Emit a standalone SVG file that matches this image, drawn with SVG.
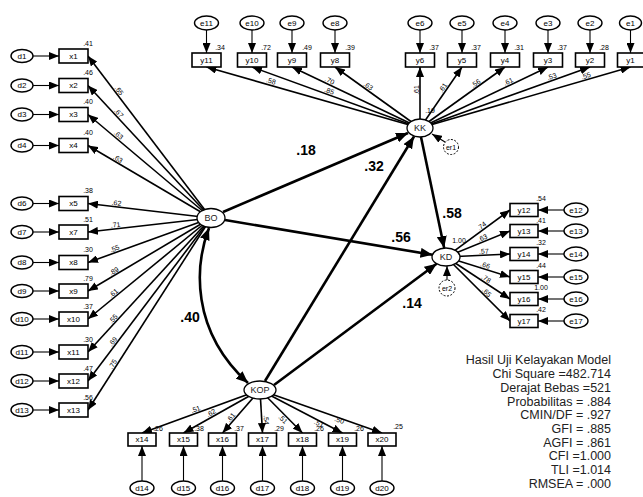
<svg xmlns="http://www.w3.org/2000/svg" width="643" height="497" viewBox="0 0 643 497">
<defs>
<marker id="ah" markerUnits="userSpaceOnUse" markerWidth="10" markerHeight="8" refX="10" refY="4" orient="auto"><path d="M0,0 L10,4 L0,8 z" fill="#000"/></marker>
<marker id="ahb" markerUnits="userSpaceOnUse" markerWidth="12" markerHeight="10" refX="12" refY="5" orient="auto-start-reverse"><path d="M0,0 L12,5 L0,10 z" fill="#000"/></marker>
</defs>
<style>
.box{fill:#fff;stroke:#000;stroke-width:1.6}
.lat{fill:#fff;stroke:#000;stroke-width:1.3}
.err{fill:#fff;stroke:#000;stroke-width:1.4}
.derr{fill:#fff;stroke:#000;stroke-width:1;stroke-dasharray:2 1.5}
text{font-family:"Liberation Sans",Arial,sans-serif;fill:#000}
.t{font-size:8px;text-anchor:middle;dominant-baseline:central}
.lt{font-size:9px;text-anchor:middle;dominant-baseline:central;fill:#222}
.n{font-size:7px;text-anchor:middle;dominant-baseline:central}
.b{font-size:14px;font-weight:bold;text-anchor:middle;dominant-baseline:central}
.s{font-size:12.5px;text-anchor:end;fill:#222}
.ld{stroke:#000;stroke-width:1.6;fill:none;marker-end:url(#ah)}
.th{stroke:#000;stroke-width:1.1;fill:none;marker-end:url(#ah)}
.st{stroke:#000;stroke-width:2.6;fill:none;marker-end:url(#ahb)}
</style>

<g id="connectors">
<line class="th" x1="33" y1="56" x2="59" y2="56"/>
<line class="th" x1="33" y1="85.5" x2="59" y2="85.5"/>
<line class="th" x1="33" y1="114.5" x2="59" y2="114.5"/>
<line class="th" x1="33" y1="145.5" x2="59" y2="145.5"/>
<line class="th" x1="33" y1="203.5" x2="59" y2="203.5"/>
<line class="th" x1="33" y1="232" x2="59" y2="232"/>
<line class="th" x1="33" y1="262.5" x2="59" y2="262.5"/>
<line class="th" x1="33" y1="291" x2="59" y2="291"/>
<line class="th" x1="33" y1="319" x2="59" y2="319"/>
<line class="th" x1="33" y1="352" x2="59" y2="352"/>
<line class="th" x1="33" y1="381" x2="59" y2="381"/>
<line class="th" x1="33" y1="410" x2="59" y2="410"/>
<line class="ld" x1="211" y1="218" x2="88" y2="56"/>
<line class="ld" x1="211" y1="218" x2="88" y2="85.5"/>
<line class="ld" x1="211" y1="218" x2="88" y2="114.5"/>
<line class="ld" x1="211" y1="218" x2="88" y2="145.5"/>
<line class="ld" x1="211" y1="218" x2="88" y2="203.5"/>
<line class="ld" x1="211" y1="218" x2="88" y2="232"/>
<line class="ld" x1="211" y1="218" x2="88" y2="262.5"/>
<line class="ld" x1="211" y1="218" x2="88" y2="291"/>
<line class="ld" x1="211" y1="218" x2="88" y2="319"/>
<line class="ld" x1="211" y1="218" x2="88" y2="352"/>
<line class="ld" x1="211" y1="218" x2="88" y2="381"/>
<line class="ld" x1="211" y1="218" x2="88" y2="410"/>
<line class="th" x1="206.5" y1="30" x2="206.5" y2="53"/>
<line class="th" x1="252" y1="30" x2="252" y2="53"/>
<line class="th" x1="292" y1="30" x2="292" y2="53"/>
<line class="th" x1="335" y1="30" x2="335" y2="53"/>
<line class="th" x1="420" y1="30" x2="420" y2="53"/>
<line class="th" x1="462" y1="30" x2="462" y2="53"/>
<line class="th" x1="505" y1="30" x2="505" y2="53"/>
<line class="th" x1="548" y1="30" x2="548" y2="53"/>
<line class="th" x1="590" y1="30" x2="590" y2="53"/>
<line class="th" x1="630.5" y1="30" x2="630.5" y2="53"/>
<line class="ld" x1="420" y1="128" x2="206.5" y2="67"/>
<line class="ld" x1="420" y1="128" x2="252" y2="67"/>
<line class="ld" x1="420" y1="128" x2="292" y2="67"/>
<line class="ld" x1="420" y1="128" x2="335" y2="67"/>
<line class="ld" x1="420" y1="128" x2="420" y2="67"/>
<line class="ld" x1="420" y1="128" x2="462" y2="67"/>
<line class="ld" x1="420" y1="128" x2="505" y2="67"/>
<line class="ld" x1="420" y1="128" x2="548" y2="67"/>
<line class="ld" x1="420" y1="128" x2="590" y2="67"/>
<line class="ld" x1="420" y1="128" x2="630.5" y2="67"/>
<line class="ld" x1="446" y1="257" x2="510" y2="210"/>
<line class="ld" x1="446" y1="257" x2="510" y2="231"/>
<line class="ld" x1="446" y1="257" x2="510" y2="254"/>
<line class="ld" x1="446" y1="257" x2="510" y2="277"/>
<line class="ld" x1="446" y1="257" x2="510" y2="299"/>
<line class="ld" x1="446" y1="257" x2="510" y2="321"/>
<line class="th" x1="564" y1="210" x2="538" y2="210"/>
<line class="th" x1="564" y1="231" x2="538" y2="231"/>
<line class="th" x1="564" y1="254" x2="538" y2="254"/>
<line class="th" x1="564" y1="277" x2="538" y2="277"/>
<line class="th" x1="564" y1="299" x2="538" y2="299"/>
<line class="th" x1="564" y1="321" x2="538" y2="321"/>
<line class="ld" x1="260" y1="390" x2="142" y2="433"/>
<line class="ld" x1="260" y1="390" x2="183.5" y2="433"/>
<line class="ld" x1="260" y1="390" x2="222.5" y2="433"/>
<line class="ld" x1="260" y1="390" x2="262.5" y2="433"/>
<line class="ld" x1="260" y1="390" x2="302.5" y2="433"/>
<line class="ld" x1="260" y1="390" x2="342.5" y2="433"/>
<line class="ld" x1="260" y1="390" x2="382" y2="433"/>
<line class="th" x1="142" y1="481" x2="142" y2="446"/>
<line class="th" x1="183.5" y1="481" x2="183.5" y2="446"/>
<line class="th" x1="222.5" y1="481" x2="222.5" y2="446"/>
<line class="th" x1="262.5" y1="481" x2="262.5" y2="446"/>
<line class="th" x1="302.5" y1="481" x2="302.5" y2="446"/>
<line class="th" x1="342.5" y1="481" x2="342.5" y2="446"/>
<line class="th" x1="382" y1="481" x2="382" y2="446"/>
<line class="st" x1="223" y1="212" x2="408" y2="133"/>
<line class="st" x1="265" y1="381" x2="414" y2="136.5"/>
<line class="st" x1="225" y1="220" x2="432.5" y2="254.8"/>
<line class="st" x1="274" y1="385" x2="436.6" y2="263.7"/>
<line class="st" x1="421" y1="137" x2="444.2" y2="248.1"/>
<path class="st" d="M209,228 C195,265 190,330 248,383" marker-start="url(#ahb)"/>
<line class="th" x1="445" y1="142" x2="432" y2="134"/>
<line class="th" x1="447" y1="280" x2="447" y2="266"/>
<text class="n" transform="translate(119.2,90.5) rotate(52.8)">.65</text>
<text class="n" transform="translate(118.9,113) rotate(47.1)">.67</text>
<text class="n" transform="translate(118.6,135) rotate(40.1)">.63</text>
<text class="n" transform="translate(118,158.6) rotate(30.5)">.63</text>
<text class="n" transform="translate(116.5,202.8) rotate(6.7)">.62</text>
<text class="n" transform="translate(115.5,224.8) rotate(-6.5)">.71</text>
<text class="n" transform="translate(114.6,248.6) rotate(-19.9)">.55</text>
<text class="n" transform="translate(114,271) rotate(-30.7)">.89</text>
<text class="n" transform="translate(113.5,292.9) rotate(-39.4)">.61</text>
<text class="n" transform="translate(113.1,318.8) rotate(-47.4)">.55</text>
<text class="n" transform="translate(112.8,341.5) rotate(-53)">.69</text>
<text class="n" transform="translate(112.6,364.1) rotate(-57.4)">.75</text>
<text class="n" transform="translate(271,81) rotate(15.9)">.58</text>
<text class="n" transform="translate(329.4,90.8) rotate(20)">.85</text>
<text class="n" transform="translate(329.7,80.6) rotate(25.5)">.70</text>
<text class="n" transform="translate(368.3,86) rotate(35.7)">.63</text>
<text class="n" transform="translate(416,90) rotate(-90)">.61</text>
<text class="n" transform="translate(442.9,87.7) rotate(-55.4)">.61</text>
<text class="n" transform="translate(475.7,83.2) rotate(-35.7)">.56</text>
<text class="n" transform="translate(508.3,81.5) rotate(-25.5)">.61</text>
<text class="n" transform="translate(551.7,76.5) rotate(-19.7)">.53</text>
<text class="n" transform="translate(585.9,75.7) rotate(-16.2)">.55</text>
<text class="n" transform="translate(481.6,225.9) rotate(-36.3)">.74</text>
<text class="n" transform="translate(482.5,237.9) rotate(-22.1)">.63</text>
<text class="n" transform="translate(483.8,251.2) rotate(-2.7)">.57</text>
<text class="n" transform="translate(485.2,265.1) rotate(17.4)">.66</text>
<text class="n" transform="translate(486.2,278.6) rotate(33.3)">.78</text>
<text class="n" transform="translate(486.8,292.2) rotate(45)">.65</text>
<text class="n" transform="translate(195.6,409.2) rotate(-20)">.51</text>
<text class="n" transform="translate(211,412.9) rotate(-29.3)">.62</text>
<text class="n" transform="translate(230.8,417.4) rotate(-48.9)">.61</text>
<text class="n" transform="translate(266.5,420) rotate(87)">.54</text>
<text class="n" transform="translate(283.2,419.1) rotate(45.3)">.51</text>
<text class="n" transform="translate(319,423.3) rotate(27.5)">.51</text>
<text class="n" transform="translate(339.3,420) rotate(19.4)">.50</text>
<text class="b" x="306" y="150">.18</text>
<text class="b" x="374" y="166">.32</text>
<text class="b" x="401" y="237">.56</text>
<text class="b" x="452" y="213">.58</text>
<text class="b" x="412" y="303">.14</text>
<text class="b" x="190" y="317">.40</text>
</g>

<g id="d1"><ellipse class="err" cx="22" cy="56" rx="11" ry="6.5"/><text class="t" x="22" y="56">d1</text></g>
<g id="x1"><rect class="box" x="59" y="49" width="29" height="14"/><text class="t" x="73.5" y="56">x1</text><text class="n" x="88" y="43">.41</text></g>
<g id="d2"><ellipse class="err" cx="22" cy="85.5" rx="11" ry="6.5"/><text class="t" x="22" y="85.5">d2</text></g>
<g id="x2"><rect class="box" x="59" y="78.5" width="29" height="14"/><text class="t" x="73.5" y="85.5">x2</text><text class="n" x="88" y="72.5">.46</text></g>
<g id="d3"><ellipse class="err" cx="22" cy="114.5" rx="11" ry="6.5"/><text class="t" x="22" y="114.5">d3</text></g>
<g id="x3"><rect class="box" x="59" y="107.5" width="29" height="14"/><text class="t" x="73.5" y="114.5">x3</text><text class="n" x="88" y="101.5">.40</text></g>
<g id="d4"><ellipse class="err" cx="22" cy="145.5" rx="11" ry="6.5"/><text class="t" x="22" y="145.5">d4</text></g>
<g id="x4"><rect class="box" x="59" y="138.5" width="29" height="14"/><text class="t" x="73.5" y="145.5">x4</text><text class="n" x="88" y="132.5">.40</text></g>
<g id="d6"><ellipse class="err" cx="22" cy="203.5" rx="11" ry="6.5"/><text class="t" x="22" y="203.5">d6</text></g>
<g id="x5"><rect class="box" x="59" y="196.5" width="29" height="14"/><text class="t" x="73.5" y="203.5">x5</text><text class="n" x="88" y="190.5">.38</text></g>
<g id="d7"><ellipse class="err" cx="22" cy="232" rx="11" ry="6.5"/><text class="t" x="22" y="232">d7</text></g>
<g id="x7"><rect class="box" x="59" y="225" width="29" height="14"/><text class="t" x="73.5" y="232">x7</text><text class="n" x="88" y="219">.51</text></g>
<g id="d8"><ellipse class="err" cx="22" cy="262.5" rx="11" ry="6.5"/><text class="t" x="22" y="262.5">d8</text></g>
<g id="x8"><rect class="box" x="59" y="255.5" width="29" height="14"/><text class="t" x="73.5" y="262.5">x8</text><text class="n" x="88" y="249.5">.30</text></g>
<g id="d9"><ellipse class="err" cx="22" cy="291" rx="11" ry="6.5"/><text class="t" x="22" y="291">d9</text></g>
<g id="x9"><rect class="box" x="59" y="284" width="29" height="14"/><text class="t" x="73.5" y="291">x9</text><text class="n" x="88" y="278">.79</text></g>
<g id="d10"><ellipse class="err" cx="22" cy="319" rx="11" ry="6.5"/><text class="t" x="22" y="319">d10</text></g>
<g id="x10"><rect class="box" x="59" y="312" width="29" height="14"/><text class="t" x="73.5" y="319">x10</text><text class="n" x="88" y="306">.37</text></g>
<g id="d11"><ellipse class="err" cx="22" cy="352" rx="11" ry="6.5"/><text class="t" x="22" y="352">d11</text></g>
<g id="x11"><rect class="box" x="59" y="345" width="29" height="14"/><text class="t" x="73.5" y="352">x11</text><text class="n" x="88" y="339">.30</text></g>
<g id="d12"><ellipse class="err" cx="22" cy="381" rx="11" ry="6.5"/><text class="t" x="22" y="381">d12</text></g>
<g id="x12"><rect class="box" x="59" y="374" width="29" height="14"/><text class="t" x="73.5" y="381">x12</text><text class="n" x="88" y="368">.47</text></g>
<g id="d13"><ellipse class="err" cx="22" cy="410" rx="11" ry="6.5"/><text class="t" x="22" y="410">d13</text></g>
<g id="x13"><rect class="box" x="59" y="403" width="29" height="14"/><text class="t" x="73.5" y="410">x13</text><text class="n" x="88" y="397">.56</text></g>

<g id="e11"><ellipse class="err" cx="206.5" cy="23" rx="12" ry="7"/><text class="t" x="206.5" y="23">e11</text></g>
<g id="y11"><rect class="box" x="192" y="53" width="29" height="14"/><text class="t" x="206.5" y="60">y11</text><text class="n" x="220" y="47">.34</text></g>
<g id="e10"><ellipse class="err" cx="252" cy="23" rx="12" ry="7"/><text class="t" x="252" y="23">e10</text></g>
<g id="y10"><rect class="box" x="237.5" y="53" width="29" height="14"/><text class="t" x="252" y="60">y10</text><text class="n" x="266" y="47">.72</text></g>
<g id="e9"><ellipse class="err" cx="292" cy="23" rx="12" ry="7"/><text class="t" x="292" y="23">e9</text></g>
<g id="y9"><rect class="box" x="277.5" y="53" width="29" height="14"/><text class="t" x="292" y="60">y9</text><text class="n" x="307" y="47">.49</text></g>
<g id="e8"><ellipse class="err" cx="335" cy="23" rx="12" ry="7"/><text class="t" x="335" y="23">e8</text></g>
<g id="y8"><rect class="box" x="320.5" y="53" width="29" height="14"/><text class="t" x="335" y="60">y8</text><text class="n" x="350" y="47">.39</text></g>
<g id="e6"><ellipse class="err" cx="420" cy="23" rx="12" ry="7"/><text class="t" x="420" y="23">e6</text></g>
<g id="y6"><rect class="box" x="405.5" y="53" width="29" height="14"/><text class="t" x="420" y="60">y6</text><text class="n" x="434" y="47">.37</text></g>
<g id="e5"><ellipse class="err" cx="462" cy="23" rx="12" ry="7"/><text class="t" x="462" y="23">e5</text></g>
<g id="y5"><rect class="box" x="447.5" y="53" width="29" height="14"/><text class="t" x="462" y="60">y5</text><text class="n" x="476" y="47">.37</text></g>
<g id="e4"><ellipse class="err" cx="505" cy="23" rx="12" ry="7"/><text class="t" x="505" y="23">e4</text></g>
<g id="y4"><rect class="box" x="490.5" y="53" width="29" height="14"/><text class="t" x="505" y="60">y4</text><text class="n" x="519" y="47">.31</text></g>
<g id="e3"><ellipse class="err" cx="548" cy="23" rx="12" ry="7"/><text class="t" x="548" y="23">e3</text></g>
<g id="y3"><rect class="box" x="533.5" y="53" width="29" height="14"/><text class="t" x="548" y="60">y3</text><text class="n" x="562" y="47">.37</text></g>
<g id="e2"><ellipse class="err" cx="590" cy="23" rx="12" ry="7"/><text class="t" x="590" y="23">e2</text></g>
<g id="y2"><rect class="box" x="575.5" y="53" width="29" height="14"/><text class="t" x="590" y="60">y2</text><text class="n" x="604" y="47">.28</text></g>
<g id="e1"><ellipse class="err" cx="630.5" cy="23" rx="11" ry="7"/><text class="t" x="630.5" y="23">e1</text></g>
<g id="y1"><rect class="box" x="617.5" y="53" width="29" height="14"/><text class="t" x="630.5" y="60">y1</text></g>

<g id="y12"><rect class="box" x="510" y="203.5" width="28" height="13"/><text class="t" x="524" y="210">y12</text><text class="n" x="541" y="198">.54</text></g>
<g id="e12"><ellipse class="err" cx="576" cy="210" rx="12" ry="7"/><text class="t" x="576" y="210">e12</text></g>
<g id="y13"><rect class="box" x="510" y="224.5" width="28" height="13"/><text class="t" x="524" y="231">y13</text><text class="n" x="541" y="220">.41</text></g>
<g id="e13"><ellipse class="err" cx="576" cy="231" rx="12" ry="7"/><text class="t" x="576" y="231">e13</text></g>
<g id="y14"><rect class="box" x="510" y="247.5" width="28" height="13"/><text class="t" x="524" y="254">y14</text><text class="n" x="541" y="242">.32</text></g>
<g id="e14"><ellipse class="err" cx="576" cy="254" rx="12" ry="7"/><text class="t" x="576" y="254">e14</text></g>
<g id="y15"><rect class="box" x="510" y="270.5" width="28" height="13"/><text class="t" x="524" y="277">y15</text><text class="n" x="541" y="265">.44</text></g>
<g id="e15"><ellipse class="err" cx="576" cy="277" rx="12" ry="7"/><text class="t" x="576" y="277">e15</text></g>
<g id="y16"><rect class="box" x="510" y="292.5" width="28" height="13"/><text class="t" x="524" y="299">y16</text><text class="n" x="541" y="287">1.00</text></g>
<g id="e16"><ellipse class="err" cx="576" cy="299" rx="12" ry="7"/><text class="t" x="576" y="299">e16</text></g>
<g id="y17"><rect class="box" x="510" y="314.5" width="28" height="13"/><text class="t" x="524" y="321">y17</text><text class="n" x="541" y="309">.42</text></g>
<g id="e17"><ellipse class="err" cx="576" cy="321" rx="12" ry="7"/><text class="t" x="576" y="321">e17</text></g>

<g id="x14"><rect class="box" x="128" y="433" width="28" height="13"/><text class="t" x="142" y="439.5">x14</text><text class="n" x="158" y="428">.26</text></g>
<g id="d14"><ellipse class="err" cx="142" cy="488" rx="12" ry="7"/><text class="t" x="142" y="488">d14</text></g>
<g id="x15"><rect class="box" x="169.5" y="433" width="28" height="13"/><text class="t" x="183.5" y="439.5">x15</text><text class="n" x="199" y="428">.38</text></g>
<g id="d15"><ellipse class="err" cx="183.5" cy="488" rx="12" ry="7"/><text class="t" x="183.5" y="488">d15</text></g>
<g id="x16"><rect class="box" x="208.5" y="433" width="28" height="13"/><text class="t" x="222.5" y="439.5">x16</text><text class="n" x="239" y="428">.37</text></g>
<g id="d16"><ellipse class="err" cx="222.5" cy="488" rx="12" ry="7"/><text class="t" x="222.5" y="488">d16</text></g>
<g id="x17"><rect class="box" x="248.5" y="433" width="28" height="13"/><text class="t" x="262.5" y="439.5">x17</text><text class="n" x="279" y="428">.29</text></g>
<g id="d17"><ellipse class="err" cx="262.5" cy="488" rx="12" ry="7"/><text class="t" x="262.5" y="488">d17</text></g>
<g id="x18"><rect class="box" x="288.5" y="433" width="28" height="13"/><text class="t" x="302.5" y="439.5">x18</text><text class="n" x="319" y="428">.26</text></g>
<g id="d18"><ellipse class="err" cx="302.5" cy="488" rx="12" ry="7"/><text class="t" x="302.5" y="488">d18</text></g>
<g id="x19"><rect class="box" x="328.5" y="433" width="28" height="13"/><text class="t" x="342.5" y="439.5">x19</text><text class="n" x="359" y="428">.26</text></g>
<g id="d19"><ellipse class="err" cx="342.5" cy="488" rx="12" ry="7"/><text class="t" x="342.5" y="488">d19</text></g>
<g id="x20"><rect class="box" x="368" y="433" width="28" height="13"/><text class="t" x="382" y="439.5">x20</text><text class="n" x="398" y="426">.25</text></g>
<g id="d20"><ellipse class="err" cx="382" cy="488" rx="12" ry="7"/><text class="t" x="382" y="488">d20</text></g>

<g id="BO"><ellipse class="lat" cx="211" cy="218" rx="14" ry="9.5"/><text class="lt" x="211" y="218">BO</text></g>
<g id="KK"><ellipse class="lat" cx="420" cy="128" rx="13" ry="9"/><text class="lt" x="420" y="128">KK</text><text class="n" x="430" y="110">.19</text></g>
<g id="KD"><ellipse class="lat" cx="446" cy="257" rx="14" ry="9"/><text class="lt" x="446" y="257">KD</text><text class="n" x="459" y="240">1.00</text></g>
<g id="KOP"><ellipse class="lat" cx="260" cy="390" rx="16" ry="9"/><text class="lt" x="260" y="390">KOP</text></g>
<g id="er1"><circle class="derr" cx="451" cy="147" r="7.5"/><text class="n" x="451" y="147">er1</text></g>
<g id="er2"><circle class="derr" cx="447" cy="288" r="8"/><text class="n" x="447" y="288">er2</text></g>

<g id="fit">
<text class="s" x="611" y="364">Hasil Uji Kelayakan Model</text>
<text class="s" x="611" y="378">Chi Square =482.714</text>
<text class="s" x="611" y="392">Derajat Bebas =521</text>
<text class="s" x="611" y="406">Probabilitas = .884</text>
<text class="s" x="611" y="419">CMIN/DF = .927</text>
<text class="s" x="611" y="433">GFI = .885</text>
<text class="s" x="611" y="447">AGFI = .861</text>
<text class="s" x="611" y="460">CFI =1.000</text>
<text class="s" x="611" y="474">TLI =1.014</text>
<text class="s" x="611" y="488">RMSEA = .000</text>
</g>
</svg>
